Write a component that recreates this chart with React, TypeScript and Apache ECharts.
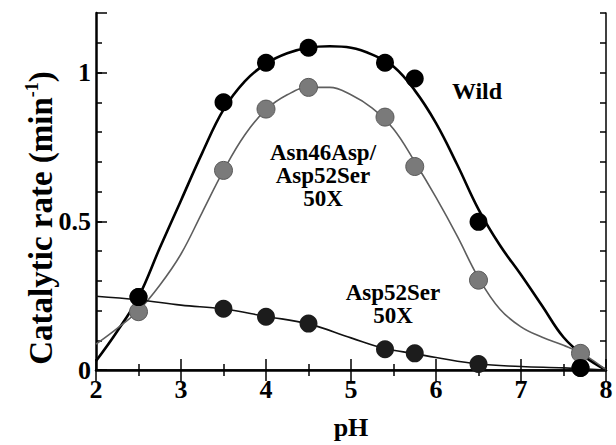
import React, { useEffect, useRef } from "react";
import * as echarts from "echarts";

// Measured points
const pH = [2.5, 3.5, 4.0, 4.5, 5.4, 5.75, 6.5, 7.7];
const wildRate = [0.245, 0.9, 1.033, 1.083, 1.033, 0.98, 0.498, 0.007];
const doubleMutRate = [0.196, 0.671, 0.877, 0.95, 0.85, 0.684, 0.302, 0.056];
const asp52SerRate = [0.245, 0.206, 0.179, 0.156, 0.07, 0.056, 0.02, 0.007];

// Fitted curves
const fitPH = [2.0, 2.25, 2.5, 2.75, 3.0, 3.25, 3.5, 3.75, 4.0, 4.25, 4.5, 4.75, 5.0, 5.25, 5.5, 5.75, 6.0, 6.25, 6.5, 6.75, 7.0, 7.25, 7.5, 7.75, 8.0];
const wildFit = [0.03, 0.13, 0.245, 0.41, 0.57, 0.73, 0.875, 0.97, 1.03, 1.065, 1.083, 1.088, 1.083, 1.06, 1.02, 0.94, 0.83, 0.69, 0.54, 0.42, 0.32, 0.215, 0.11, 0.045, 0.0];
const doubleMutFit = [0.087, 0.14, 0.2, 0.285, 0.39, 0.53, 0.67, 0.79, 0.875, 0.925, 0.95, 0.95, 0.925, 0.88, 0.81, 0.7, 0.58, 0.45, 0.31, 0.205, 0.145, 0.11, 0.083, 0.05, 0.0];
const aspFitPH = [2.0, 2.5, 3.0, 3.5, 4.0, 4.5, 5.0, 5.4, 5.75, 6.0, 6.5, 7.0, 7.5, 8.0];
const asp52SerFit = [0.248, 0.236, 0.218, 0.205, 0.18, 0.155, 0.108, 0.072, 0.055, 0.042, 0.02, 0.012, 0.007, 0.0];

const yLabels = ["0", "0.5", "1"];

const FONT = "Liberation Serif, DejaVu Serif, serif";

const pairs = (xs: number[], ys: number[]) => xs.map((x, i) => [x, ys[i]]);

export default function App() {
  const ref = useRef<HTMLDivElement>(null);
  useEffect(() => {
    document.body.style.margin = "0";
    if (!ref.current) return;
    const chart = echarts.init(ref.current, null, { renderer: "svg" });
    const labelStyle = { fontFamily: FONT, fontWeight: "bold" as const, fontSize: 26, color: "#000" };
    const yFmt = (v: number) => {
      for (const l of yLabels) if (Math.abs(v - parseFloat(l)) < 1e-6) return l;
      return "";
    };
    chart.setOption({
      animation: false,
      backgroundColor: "#fff",
      textStyle: { fontFamily: FONT },
      grid: { left: 96, right: 10, top: 13, bottom: 71 },
      xAxis: [
        {
          type: "value", position: "bottom", min: 2, max: 8, interval: 1,
          axisLine: { show: true, lineStyle: { color: "#000", width: 2.5 } },
          axisTick: { show: true, inside: true, length: 11, lineStyle: { color: "#000", width: 1.5 } },
          minorTick: { show: true, splitNumber: 2, length: 6, lineStyle: { color: "#000", width: 1.5 } },
          splitLine: { show: false },
          axisLabel: { ...labelStyle, margin: 6 },
          name: "pH", nameLocation: "middle", nameGap: 44,
          nameTextStyle: { ...labelStyle },
        },
        {
          type: "value", position: "top", min: 2, max: 8, interval: 1,
          axisLine: { show: true, lineStyle: { color: "#000", width: 1.5 } },
          axisTick: { show: true, inside: true, length: 11, lineStyle: { color: "#000", width: 1.5 } },
          minorTick: { show: true, splitNumber: 2, length: 6, lineStyle: { color: "#000", width: 1.5 } },
          splitLine: { show: false },
          axisLabel: { show: false },
        },
      ],
      yAxis: [
        {
          type: "value", position: "left", min: 0, max: 1.2, interval: 0.1,
          axisLine: { show: true, lineStyle: { color: "#000", width: 2.5 } },
          axisTick: { show: true, inside: true, length: 6, lineStyle: { color: "#000", width: 1.5 } },
          splitLine: { show: false },
          axisLabel: { ...labelStyle, margin: 5, formatter: yFmt, showMaxLabel: false },
        },
        {
          type: "value", position: "left", min: 0, max: 1.2, interval: 0.5,
          axisLine: { show: false },
          axisTick: { show: true, inside: true, length: 11, lineStyle: { color: "#000", width: 1.5 } },
          splitLine: { show: false },
          axisLabel: { show: false },
        },
        {
          type: "value", position: "right", min: 0, max: 1.2, interval: 0.1,
          axisLine: { show: true, lineStyle: { color: "#000", width: 1.5 } },
          axisTick: { show: true, inside: true, length: 6, lineStyle: { color: "#000", width: 1.5 } },
          splitLine: { show: false },
          axisLabel: { show: false },
        },
      ],
      graphic: [
        {
          type: "text", x: 41, y: 218, rotation: Math.PI / 2, z: 100,
          style: {
            text: "{a|Catalytic rate (min}{s|-1}{a|)}",
            align: "center", verticalAlign: "middle",
            rich: {
              a: { fontFamily: FONT, fontWeight: "bold", fontSize: 33, fill: "#000", lineHeight: 36 },
              s: { fontFamily: FONT, fontWeight: "bold", fontSize: 18, fill: "#000", lineHeight: 36, verticalAlign: "top", padding: [0, 0, 15, 0] },
            },
          },
        },
        {
          type: "text", x: 477, y: 91, z: 100,
          style: { text: "Wild", fontFamily: FONT, fontWeight: "bold", fontSize: 24, fill: "#000", align: "center", verticalAlign: "middle" },
        },
        {
          type: "text", x: 323, y: 175, z: 100,
          style: { text: "Asn46Asp/\nAsp52Ser\n50X", fontFamily: FONT, fontWeight: "bold", fontSize: 23, lineHeight: 23, fill: "#000", align: "center", verticalAlign: "middle" },
        },
        {
          type: "text", x: 393, y: 304, z: 100,
          style: { text: "Asp52Ser\n50X", fontFamily: FONT, fontWeight: "bold", fontSize: 23, lineHeight: 23, fill: "#000", align: "center", verticalAlign: "middle" },
        },
      ],
      series: [
        {
          type: "line", name: "Wild fit", data: pairs(fitPH, wildFit), smooth: 0.4, showSymbol: false, symbol: "none",
          lineStyle: { color: "#000", width: 2.6 }, z: 2,
        },
        {
          type: "line", name: "Double mutant fit", data: pairs(fitPH, doubleMutFit), smooth: 0.4, showSymbol: false, symbol: "none",
          lineStyle: { color: "#5e5e5e", width: 1.6 }, z: 2,
        },
        {
          type: "line", name: "Asp52Ser fit", data: pairs(aspFitPH, asp52SerFit), smooth: 0.4, showSymbol: false, symbol: "none",
          lineStyle: { color: "#111", width: 1.6 }, z: 2,
        },
        {
          type: "scatter", name: "Asp52Ser", data: pairs(pH, asp52SerRate), symbol: "circle", symbolSize: 18,
          itemStyle: { color: "#1c1c1c", opacity: 1 }, z: 3,
        },
        {
          type: "scatter", name: "Asn46Asp/Asp52Ser", data: pairs(pH, doubleMutRate), symbol: "circle", symbolSize: 18,
          itemStyle: { color: "#7a7a7a", borderColor: "#5a5a5a", borderWidth: 1, opacity: 1 }, z: 4,
        },
        {
          type: "scatter", name: "Wild", data: pairs(pH, wildRate), symbol: "circle", symbolSize: 18,
          itemStyle: { color: "#000", opacity: 1 }, z: 5,
        },
      ],
    });
    return () => chart.dispose();
  }, []);
  return <div ref={ref} style={{ width: 616, height: 445 }} />;
}
